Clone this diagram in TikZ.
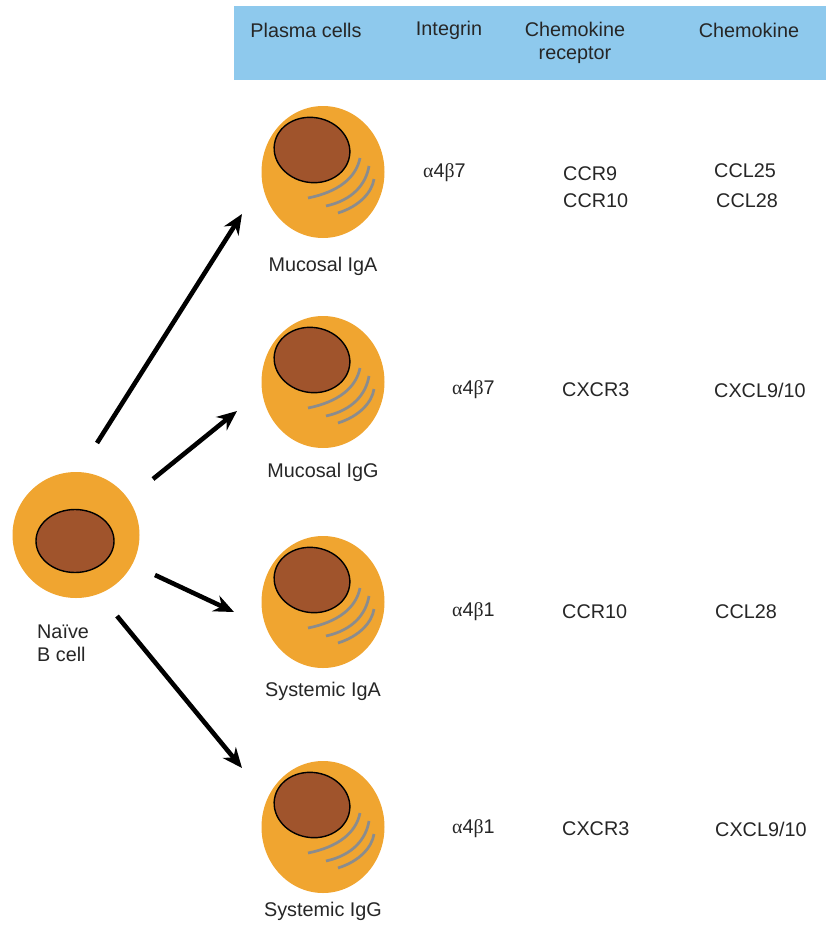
\documentclass[tikz,border=0pt]{standalone}
\usepackage{fontspec}
\setmainfont{Liberation Sans}
\newfontfamily\grk{Liberation Serif}
\usetikzlibrary{arrows.meta,positioning,calc,shapes.geometric}
\definecolor{hdrblue}{RGB}{142,201,237}
\definecolor{cellorange}{RGB}{240,165,48}
\definecolor{nucbrown}{RGB}{160,84,44}
\definecolor{ergray}{RGB}{138,140,142}
\newcommand{\intg}[1]{{\grk α}4{\grk β}#1}
\tikzset{
  cell/.style={ellipse,fill=cellorange,minimum width=123pt,minimum height=132pt,inner sep=0pt},
  nuc/.style={ellipse,draw=black,line width=1.4pt,fill=nucbrown,minimum width=76pt,minimum height=65pt,inner sep=0pt},
  er/.style={draw=ergray,line width=2.7pt},
  arr/.style={-{Stealth[length=20pt,width=17pt]},line width=4.6pt},
  lbl/.style={font=\fontsize{19.8}{23}\selectfont,inner sep=0pt,text=black!85},
  val/.style={lbl,anchor=west},
}

\begin{document}
\begin{tikzpicture}[x=1pt,y=-1pt]
 \useasboundingbox (0,0) rectangle (826,926);
 % table header
 \node[fill=hdrblue,minimum width=592pt,minimum height=74pt,inner sep=0pt,anchor=north west] (hdr) at (234,6) {};
 \node[lbl] (hplasma) at (306,30) {Plasma cells}; \node[lbl] (hint) at (449,30) {Integrin};
 \node[lbl,align=center,anchor=north] (hrec) at (575,22) {Chemokine\\receptor}; \node[lbl] (hchem) at (749,30) {Chemokine};
 % plasma cells with nucleus and ER
 \foreach \n/\y/\ly/\t in {1/172/266/Mucosal IgA,2/382/472/Mucosal IgG,3/602/691/Systemic IgA,4/827/911/Systemic IgG}{
  \node[cell] (pc\n) at (323,\y) {};
  \node[nuc,rotate=-10] (nuc\n) at ($(pc\n)+(-11,-22)$) {};
  \begin{scope}[shift={(pc\n)}]
   \draw[er] (-15,26) .. controls (15,20) and (33,6) .. (37,-14);
   \draw[er] (3,34) .. controls (30,28) and (43,12) .. (46,-6);
   \draw[er] (15,41) .. controls (37,34) and (49,20) .. (51,7);
  \end{scope}
  \node[lbl] (name\n) at (323,\ly) {\t};
 }
 % naive B cell
 \node[cell,minimum width=127pt,minimum height=126pt] (naive) at (76,535) {};
 \node[nuc,minimum width=78pt,minimum height=63pt] (nucN) at (75,541) {};
 \node[lbl,align=left,anchor=north west] (nname) at (37,625) {Naïve\\B cell};
 % differentiation arrows
 \coordinate (s1) at (97,443); \coordinate (e1) at (242,214);
 \coordinate (s2) at (153,479); \coordinate (e2) at (237,411);
 \coordinate (s3) at (155,575); \coordinate (e3) at (234,612);
 \coordinate (s4) at (117,616); \coordinate (e4) at (242,768);
 \draw[arr](s1)--(e1); \draw[arr](s2)--(e2); \draw[arr](s3)--(e3); \draw[arr](s4)--(e4);
 % homing molecules
 \node[val] (i1) at (423,173) {\intg7}; \node[val] (r1a) at (563,174) {CCR9}; \node[val] (r1b) at (563,201) {CCR10};
 \node[val] (c1a) at (714,171) {CCL25}; \node[val] (c1b) at (716,201) {CCL28};
 \node[val] (i2) at (452,390) {\intg7}; \node[val] (r2) at (562,390) {CXCR3}; \node[val] (c2) at (714,390) {CXCL9/10};
 \node[val] (i3) at (452,612) {\intg1}; \node[val] (r3) at (562,612) {CCR10}; \node[val] (c3) at (715,612) {CCL28};
 \node[val] (i4) at (452,829) {\intg1}; \node[val] (r4) at (562,829) {CXCR3}; \node[val] (c4) at (715,829) {CXCL9/10};
\end{tikzpicture}
\end{document}
